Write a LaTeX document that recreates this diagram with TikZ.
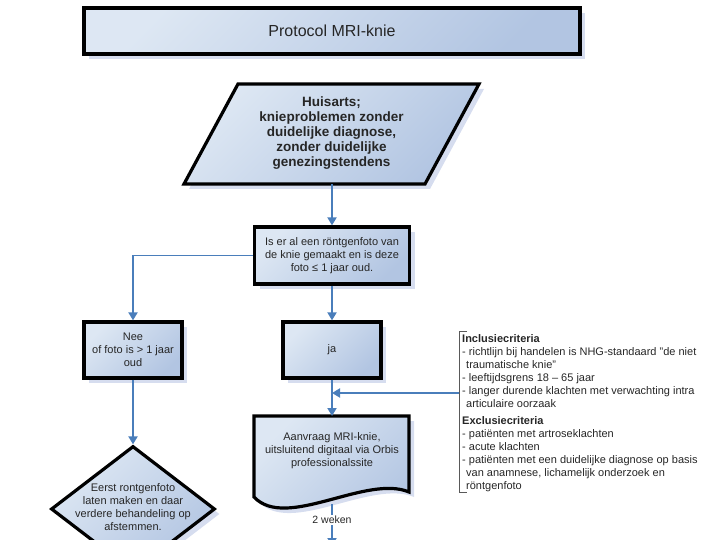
\documentclass[tikz,border=0pt]{standalone}
\usepackage{fontspec}
\setmainfont{Liberation Sans}
\usetikzlibrary{shapes.geometric,arrows.meta,shadows}
\definecolor{lite}{HTML}{DDE7F3}
\definecolor{dark}{HTML}{B2C5E2}
\definecolor{shad}{HTML}{D6DDEF}
\definecolor{conn}{HTML}{4A7EBB}
\definecolor{txt}{HTML}{262626}
\begin{document}
\begin{tikzpicture}[x=1pt,y=-1pt,
  fillshape/.style={draw=black, line width=3.2pt, line join=miter,
    top color=lite, bottom color=dark, shading angle=45,
    drop shadow={shadow xshift=5pt, shadow yshift=-5pt, fill=shad, opacity=1}},
  box/.style={fillshape, rectangle, inner sep=0pt, align=center, text=txt},
  boxtext/.style={font=\fontsize{11}{13}\selectfont, text=txt, align=center},
  conn/.style={draw=conn, line width=1.8pt, -{Triangle[length=8pt,width=9pt]}},
  brk/.style={draw=black!65, line width=0.9pt}]
\useasboundingbox (0,0) rectangle (720,540);
\clip (0,0) rectangle (720,540);

% title
\node[box, minimum width=496pt, minimum height=46pt,
      font=\fontsize{16}{18}\selectfont] (title) at (332,31) {Protocol MRI-knie};

% huisarts parallelogram
\path[fillshape] (238,84) -- (479,84) -- (425,184) -- (184,184) -- cycle;
\node[font=\bfseries\fontsize{13.5}{15}\selectfont, align=center, text=txt] (huis) at (331.5,133)
  {Huisarts;\\knieproblemen zonder\\duidelijke diagnose,\\zonder duidelijke\\genezingstendens};
\coordinate (huisb) at (332,184);

% question box
\node[box, minimum width=155pt, minimum height=57pt, boxtext] (vraag) at (332,255.5)
  {Is er al een röntgenfoto van\\de knie gemaakt en is deze\\foto ≤ 1 jaar oud.};

% nee / ja
\node[box, minimum width=98pt, minimum height=56pt, boxtext] (nee) at (133,350)
  {Nee\\of foto is > 1 jaar\\oud};
\node[box, minimum width=98pt, minimum height=56pt, boxtext] (ja) at (332,350) {ja};

% diamond
\node[fillshape, diamond, minimum width=164pt, minimum height=126pt, inner sep=0pt] (dia) at (133,509) {};
\node[font=\fontsize{11}{13}\selectfont, text=txt, align=center] (diatext) at (133,507)
  {Eerst rontgenfoto\\laten maken en daar\\verdere behandeling op\\afstemmen.};

% document
\path[fillshape] (254,416) -- (409,416) -- (409,492)
   .. controls (366,474) and (286,531) .. (254,497) -- cycle;
\node[boxtext] (doc) at (332,451)
  {Aanvraag MRI-knie,\\uitsluitend digitaal via Orbis\\professionalssite};
\coordinate (doct) at (332,416);
\coordinate (docb) at (332,504);
\coordinate (down) at (332,546);

% criteria
\draw[brk] (467,331) -- (459,331) -- (459,492) -- (467,492);
\coordinate (brkm) at (459,393);
\node[anchor=north west, inner sep=0pt, align=left, text=txt,
      font=\fontsize{11}{13}\selectfont] (crit) at (462,334)
  {\textbf{Inclusiecriteria}\\
   - richtlijn bij handelen is NHG-standaard "de niet\\
   \hspace*{4pt}traumatische knie"\\
   - leeftijdsgrens 18 – 65 jaar\\
   - langer durende klachten met verwachting intra\\
   \hspace*{4pt}articulaire oorzaak\\[4pt]
   \textbf{Exclusiecriteria}\\
   - patiënten met artroseklachten\\
   - acute klachten\\
   - patiënten met een duidelijke diagnose op basis\\
   \hspace*{4pt}van anamnese, lichamelijk onderzoek en\\
   \hspace*{4pt}röntgenfoto};

% connectors
\draw[conn] (huisb) -- (vraag.north);
\draw[conn] (vraag.west) -| (nee.north);
\draw[conn] (vraag.south) -- (ja.north);
\draw[conn] (nee.south) -- (dia.north);
\draw[conn] (ja.south) -- (doct);
\draw[conn] (brkm) -- (brkm -| ja.south);
\draw[conn] (docb) -- node[pos=0.38, fill=white, inner sep=1.5pt, text=txt,
   font=\fontsize{10.5}{12}\selectfont] (weken) {2 weken} (down);
\end{tikzpicture}
\end{document}
